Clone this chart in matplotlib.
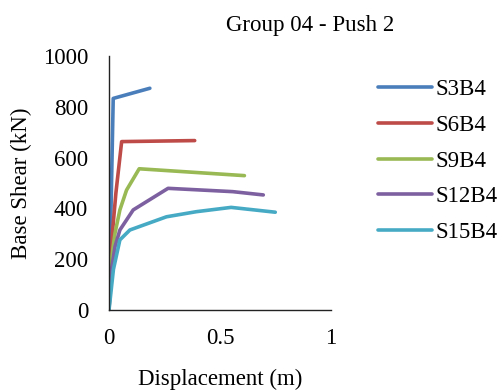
import matplotlib.pyplot as plt

plt.rcParams['font.family'] = ['Liberation Serif', 'DejaVu Serif']

# Pushover curves: displacement (m) vs base shear (kN)
s3_x = [0.0, 0.019, 0.184]
s3_y = [0, 833, 873]

s6_x = [0.0, 0.015, 0.031, 0.057, 0.386]
s6_y = [0, 300, 460, 663, 667]

s9_x = [0.0, 0.008, 0.027, 0.049, 0.079, 0.136, 0.61]
s9_y = [0, 180, 302, 394, 472, 556, 529]

s12_x = [0.0, 0.008, 0.027, 0.049, 0.109, 0.266, 0.557, 0.695]
s12_y = [0, 140, 249, 315, 394, 479, 466, 453]

s15_x = [0.0, 0.020, 0.049, 0.094, 0.259, 0.393, 0.55, 0.749]
s15_y = [0, 160, 276, 315, 367, 387, 404, 385]

names = ['S3B4', 'S6B4', 'S9B4', 'S12B4', 'S15B4']
colors = ['#4A7EBB', '#BE4B48', '#98B954', '#7D60A0', '#46AAC5']

fig = plt.figure(figsize=(5.03, 3.9), dpi=100)
ax = fig.add_axes([109 / 503, 80 / 390, 222 / 503, 254 / 390])

series = [(s3_x, s3_y), (s6_x, s6_y), (s9_x, s9_y), (s12_x, s12_y), (s15_x, s15_y)]
for (xs, ys), name, c in zip(series, names, colors):
    ax.plot(xs, ys, color=c, lw=2.6, label=name, solid_capstyle='round',
            solid_joinstyle='round')

ax.set_xlim(0, 1)
ax.set_ylim(0, 1000)
ax.set_xticks([0, 0.5, 1])
ax.set_xticklabels(['0', '0.5', '1'])
ax.set_yticks([0, 200, 400, 600, 800, 1000])
for s in ['top', 'right']:
    ax.spines[s].set_visible(False)
for s in ['left', 'bottom']:
    ax.spines[s].set_color('#222222')
    ax.spines[s].set_linewidth(1.0)
ax.tick_params(axis='both', length=0, labelsize=16.5)
ax.tick_params(axis='y', pad=15)
ax.tick_params(axis='x', pad=13)

ax.set_xlabel('Displacement (m)', fontsize=16.5, labelpad=14)
ax.set_ylabel('Base Shear (kN)', fontsize=16.5, labelpad=8)

fig.text(310 / 503, 1 - 25 / 390, 'Group 04 - Push 2', ha='center', va='center',
         fontsize=16.5)

fig.legend(loc='upper left', bbox_to_anchor=(369 / 503, 1 - 70 / 390),
           frameon=False, fontsize=16.5, handlelength=2.35, handletextpad=0.15,
           labelspacing=0.64, borderaxespad=0)

fig.savefig('out.png', dpi=100)
